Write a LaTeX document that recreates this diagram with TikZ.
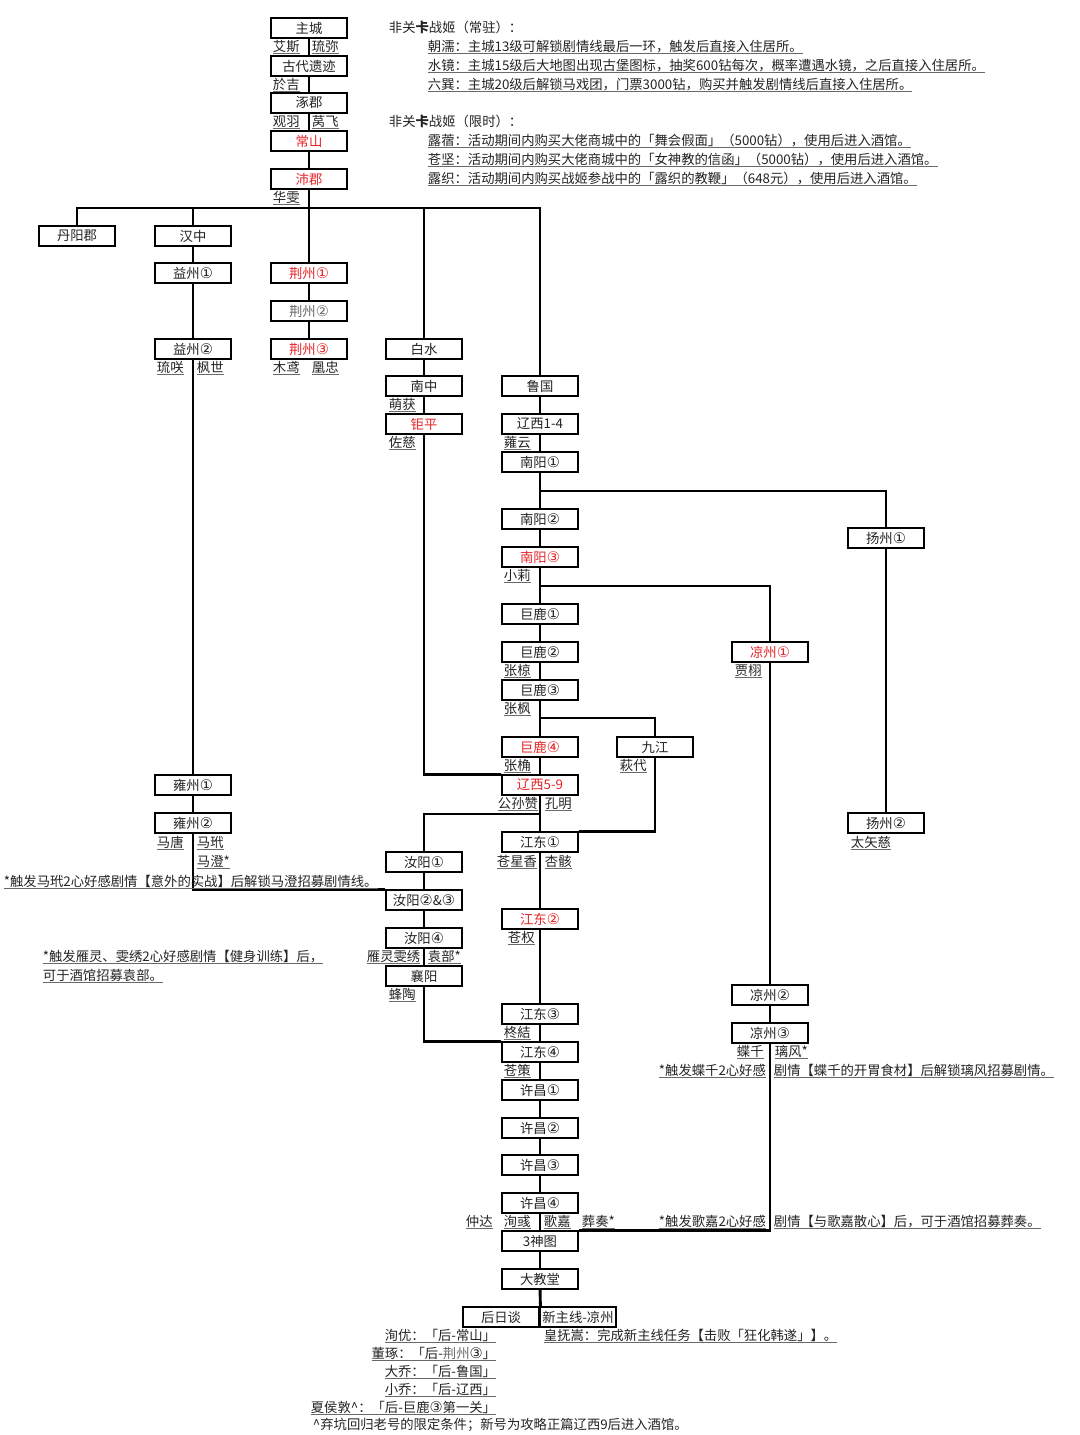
\documentclass[tikz,border=0pt]{standalone}
\usepackage{fontspec}
\setmainfont{Noto Sans CJK SC}
\newfontfamily\ringfont{DejaVu Sans}
\usepackage{tikz}
\definecolor{hired}{RGB}{230,36,40}
\definecolor{ink}{RGB}{35,35,35}
\definecolor{faded}{RGB}{105,105,105}
\newcommand{\nameline}[1]{\setbox0=\hbox{#1}\rlap{\color{faded}\rule[-1.9pt]{\wd0}{0.75pt}}\box0}
\newcommand{\ring}[1]{{\ringfont\fontsize{11}{12}\selectfont #1}}

\tikzset{
  stage/.style={draw, line width=1.5pt, fill=white, minimum width=57.5pt, minimum height=14.5pt,
                inner sep=0pt, text=ink, font=\fontsize{10}{12}\selectfont},
  boss/.style={stage, text=hired},
  cast/.style={anchor=base west, inner sep=0.5pt, yshift=-3pt, text=ink, font=\fontsize{10}{12}\selectfont},
  link/.style={line width=2.2pt},
}

\begin{document}
\begin{tikzpicture}[x=0.75pt, y=-0.75pt]
\useasboundingbox (0,0) rectangle (1080,1435);

% start
\node (zhucheng) [stage] at (309,28) {主城};
\node (gudai) [stage] at (309,66) {古代遗迹};
\node (zhuojun) [stage] at (309,103) {涿郡};
\node (changshan) [boss] at (309,141) {常山};
\node (peijun) [boss] at (309,179) {沛郡};
\node (aisi) [cast] at (272,47) {\nameline{艾斯}};
\node (liumi) [cast] at (311,47) {\nameline{琉弥}};
\node (yuji) [cast] at (272,85) {\nameline{於吉}};
\node (guanyu) [cast] at (272,122) {\nameline{观羽}};
\node (yanfei) [cast] at (311,122) {\nameline{莴飞}};
\node (huawen) [cast] at (272,198) {\nameline{华雯}};
\coordinate (bus) at (309,208);

% west
\node (danyang) [stage] at (77,236) {丹阳郡};
\node (hanzhong) [stage] at (193,236) {汉中};
\node (yizhou1) [stage] at (193,273) {益州\ring{①}};
\node (yizhou2) [stage] at (193,349) {益州\ring{②}};
\node (liuxiao) [cast] at (156,368) {\nameline{琉咲}};
\node (fengshi) [cast] at (196,368) {\nameline{枫世}};
\node (yongzhou1) [stage] at (193,785) {雍州\ring{①}};
\node (yongzhou2) [stage] at (193,823) {雍州\ring{②}};
\node (matang) [cast] at (156,843) {\nameline{马唐}};
\node (madai) [cast] at (196,843) {\nameline{马玳}};
\node (macheng) [cast] at (196,862) {\nameline{马澄*}};

\node (jingzhou1) [boss] at (309,273) {荆州\ring{①}};
\node (jingzhou2) [stage, text=faded] at (309,311) {荆州\ring{②}};
\node (jingzhou3) [boss] at (309,349) {荆州\ring{③}};
\node (muyuan) [cast] at (272,368) {\nameline{木鸢}};
\node (huangzhong) [cast] at (311,368) {\nameline{凰忠}};

\node (baishui) [stage] at (424,349) {白水};
\node (nanzhong) [stage] at (424,386) {南中};
\node (juping) [boss] at (424,424) {钜平};
\node (menghuo) [cast] at (388,405) {\nameline{萌获}};
\node (zuoci) [cast] at (388,443) {\nameline{佐慈}};

\node (ruyang1) [stage] at (424,862) {汝阳\ring{①}};
\node (ruyang23) [stage] at (424,900) {汝阳\ring{②}\&\ring{③}};
\node (ruyang4) [stage] at (424,938) {汝阳\ring{④}};
\node (xiangyang) [stage] at (424,976) {襄阳};
\node (yanling) [cast] at (366,957) {\nameline{雁灵雯绣}};
\node (yuanbu) [cast] at (427,957) {\nameline{袁部*}};
\node (fengtao) [cast] at (388,995) {\nameline{蜂陶}};

% main line
\node (luguo) [stage] at (540,386) {鲁国};
\node (liaoxi14) [stage] at (540,424) {辽西1-4};
\node (nanyang1) [stage] at (540,462) {南阳\ring{①}};
\node (nanyang2) [stage] at (540,519) {南阳\ring{②}};
\node (nanyang3) [boss] at (540,557) {南阳\ring{③}};
\node (julu1) [stage] at (540,614) {巨鹿\ring{①}};
\node (julu2) [stage] at (540,652) {巨鹿\ring{②}};
\node (julu3) [stage] at (540,690) {巨鹿\ring{③}};
\node (julu4) [boss] at (540,747) {巨鹿\ring{④}};
\node (liaoxi59) [boss] at (540,785) {辽西5-9};
\node (jiangdong1) [stage] at (540,842) {江东\ring{①}};
\node (jiangdong2) [boss] at (540,919) {江东\ring{②}};
\node (jiangdong3) [stage] at (540,1014) {江东\ring{③}};
\node (jiangdong4) [stage] at (540,1052) {江东\ring{④}};
\node (xuchang1) [stage] at (540,1090) {许昌\ring{①}};
\node (xuchang2) [stage] at (540,1128) {许昌\ring{②}};
\node (xuchang3) [stage] at (540,1165) {许昌\ring{③}};
\node (xuchang4) [stage] at (540,1203) {许昌\ring{④}};
\node (shentu) [stage] at (540,1241) {3神图};
\node (jiaotang) [stage] at (540,1279) {大教堂};
\node (houri) [stage] at (501,1317) {后日谈};
\node (xinzhu) [stage] at (578,1317) {新主线-凉州};
\coordinate (nyfork) at (540,491);
\coordinate (xlfork) at (540,586);
\coordinate (zffork) at (540,718);
\coordinate (gsfork) at (540,814);

\node (zhiyun) [cast] at (503,443) {\nameline{蕹云}};
\node (xiaoli) [cast] at (503,576) {\nameline{小莉}};
\node (zhangliang) [cast] at (503,671) {\nameline{张椋}};
\node (zhangfeng) [cast] at (503,709) {\nameline{张枫}};
\node (zhangjue) [cast] at (503,766) {\nameline{张桷}};
\node (gongsun) [cast] at (497,804) {\nameline{公孙赞}};
\node (kongming) [cast] at (544,804) {\nameline{孔明}};
\node (cangxing) [cast] at (496,862) {\nameline{苍星香}};
\node (xinghai) [cast] at (544,862) {\nameline{杏骸}};
\node (cangquan) [cast] at (507,938) {\nameline{苍权}};
\node (zhongjie) [cast] at (503,1033) {\nameline{柊結}};
\node (cangce) [cast] at (503,1071) {\nameline{苍策}};
\node (zhongda) [cast] at (465,1222) {\nameline{仲达}};
\node (xunyu) [cast] at (503,1222) {\nameline{洵彧}};
\node (gejia) [cast] at (543,1222) {\nameline{歌嘉}};
\node (zangzou) [cast] at (581,1222) {\nameline{葬奏*}};

% east
\node (jiujiang) [stage] at (655,747) {九江};
\node (qiudai) [cast] at (619,766) {\nameline{萩代}};
\node (liangzhou1) [boss] at (770,652) {凉州\ring{①}};
\node (jiaxu) [cast] at (734,671) {\nameline{贾栩}};
\node (liangzhou2) [stage] at (770,995) {凉州\ring{②}};
\node (liangzhou3) [stage] at (770,1033) {凉州\ring{③}};
\node (dieqian) [cast] at (736,1052) {\nameline{蝶千}};
\node (lifeng) [cast] at (774,1052) {\nameline{璃风*}};
\node (yangzhou1) [stage] at (886,538) {扬州\ring{①}};
\node (yangzhou2) [stage] at (886,823) {扬州\ring{②}};
\node (taishici) [cast] at (850,843) {\nameline{太矢慈}};

\path [link]
  (zhucheng) edge (gudai)
  (gudai) edge (zhuojun)
  (zhuojun) edge (changshan)
  (changshan) edge (peijun)
  (peijun) edge (jingzhou1)
  (jingzhou1) edge (jingzhou2)
  (jingzhou2) edge (jingzhou3)
  (hanzhong) edge (yizhou1)
  (yizhou1) edge (yizhou2)
  (yizhou2) edge (yongzhou1)
  (yongzhou1) edge (yongzhou2)
  (baishui) edge (nanzhong)
  (nanzhong) edge (juping)
  (luguo) edge (liaoxi14)
  (liaoxi14) edge (nanyang1)
  (nanyang1) edge (nanyang2)
  (nanyang2) edge (nanyang3)
  (nanyang3) edge (julu1)
  (julu1) edge (julu2)
  (julu2) edge (julu3)
  (julu3) edge (julu4)
  (julu4) edge (liaoxi59)
  (liaoxi59) edge (jiangdong1)
  (jiangdong1) edge (jiangdong2)
  (jiangdong2) edge (jiangdong3)
  (jiangdong3) edge (jiangdong4)
  (jiangdong4) edge (xuchang1)
  (xuchang1) edge (xuchang2)
  (xuchang2) edge (xuchang3)
  (xuchang3) edge (xuchang4)
  (xuchang4) edge (shentu)
  (shentu) edge (jiaotang)
  (ruyang1) edge (ruyang23)
  (ruyang23) edge (ruyang4)
  (ruyang4) edge (xiangyang)
  (yangzhou1) edge (yangzhou2)
  (liangzhou1) edge (liangzhou2)
  (liangzhou2) edge (liangzhou3);

\draw [link] (danyang) |- (bus) -| (luguo);
\draw [link] (hanzhong) -- (hanzhong |- bus);
\draw [link] (baishui) -- (baishui |- bus);
\draw [link] (nyfork) -| (yangzhou1);
\draw [link] (xlfork) -| (liangzhou1);
\draw [link] (zffork) -| (jiujiang);
\draw [link] (gsfork) -| (ruyang1);
\draw [link] (jiujiang) |- (jiangdong1.north east);
\draw [link] (juping) |- (liaoxi59.north west);
\draw [link] (yongzhou2) |- (ruyang23.north west);
\draw [link] (xiangyang) |- (jiangdong4.north west);
\draw [link] (liangzhou3) |- (shentu.north east);
\draw [link] (jiaotang) -- (houri.north east);

% notes
\node (fixedhead) [cast] at (388,28) {非关\textbf{卡}战姬（常驻）：};
\node (chaoru) [cast] at (427,47) {\nameline{朝濡：主城13级可解锁剧情线最后一环，触发后直接入住居所。}};
\node (shuijing) [cast] at (427,66) {\nameline{水镜：主城15级后大地图出现古堡图标，抽奖600钻每次，概率遭遇水镜，之后直接入住居所。}};
\node (liuxun) [cast] at (427,85) {\nameline{六巽：主城20级后解锁马戏团，门票3000钻，购买并触发剧情线后直接入住居所。}};
\node (limithead) [cast] at (388,122) {非关\textbf{卡}战姬（限时）：};
\node (luxu) [cast] at (427,141) {\nameline{露蓿：活动期间内购买大佬商城中的「舞会假面」（5000钻），使用后进入酒馆。}};
\node (cangjian) [cast] at (427,160) {\nameline{苍坚：活动期间内购买大佬商城中的「女神教的信函」（5000钻），使用后进入酒馆。}};
\node (luzhi) [cast] at (427,179) {\nameline{露织：活动期间内购买战姬参战中的「露织的教鞭」（648元），使用后进入酒馆。}};

\node (machengnote) [cast] at (3,882) {\nameline{*触发马玳2心好感剧情【意外的实战】后解锁马澄招募剧情线。}};
\node (yuanbunote) [cast] at (42,957) {\nameline{*触发雁灵、雯绣2心好感剧情【健身训练】后，}};
\node (yuanbunote2) [cast] at (42,976) {\nameline{可于酒馆招募袁部。}};
\node (lifengnote) [cast] at (658,1071) {\nameline{*触发蝶千2心好感}};
\node (lifengnote2) [cast] at (773,1071) {\nameline{剧情【蝶千的开胃食材】后解锁璃风招募剧情。}};
\node (zangzounote) [cast] at (658,1222) {\nameline{*触发歌嘉2心好感}};
\node (zangzounote2) [cast] at (773,1222) {\nameline{剧情【与歌嘉散心】后，可于酒馆招募葬奏。}};

\node (xunyou) [cast, anchor=base east] at (497,1336) {\nameline{洵优：「后-常山」}};
\node (dongzhuo) [cast, anchor=base east] at (497,1354) {\nameline{董琢：「后-{\color{faded}荆州}\ring{③}」}};
\node (daqiao) [cast, anchor=base east] at (497,1372) {\nameline{大乔：「后-鲁国」}};
\node (xiaoqiao) [cast, anchor=base east] at (497,1390) {\nameline{小乔：「后-辽西」}};
\node (xiahou) [cast, anchor=base east] at (497,1408) {\nameline{夏侯敦\^{}：「后-巨鹿\ring{③}第一关」}};
\node (xiahounote) [cast] at (312,1425) {\^{}弃坑回归老号的限定条件；新号为攻略正篇辽西9后进入酒馆。};
\node (huangfu) [cast] at (543,1336) {\nameline{皇抚嵩：完成新主线任务【击败「狂化韩遂」】。}};

\end{tikzpicture}
\end{document}
